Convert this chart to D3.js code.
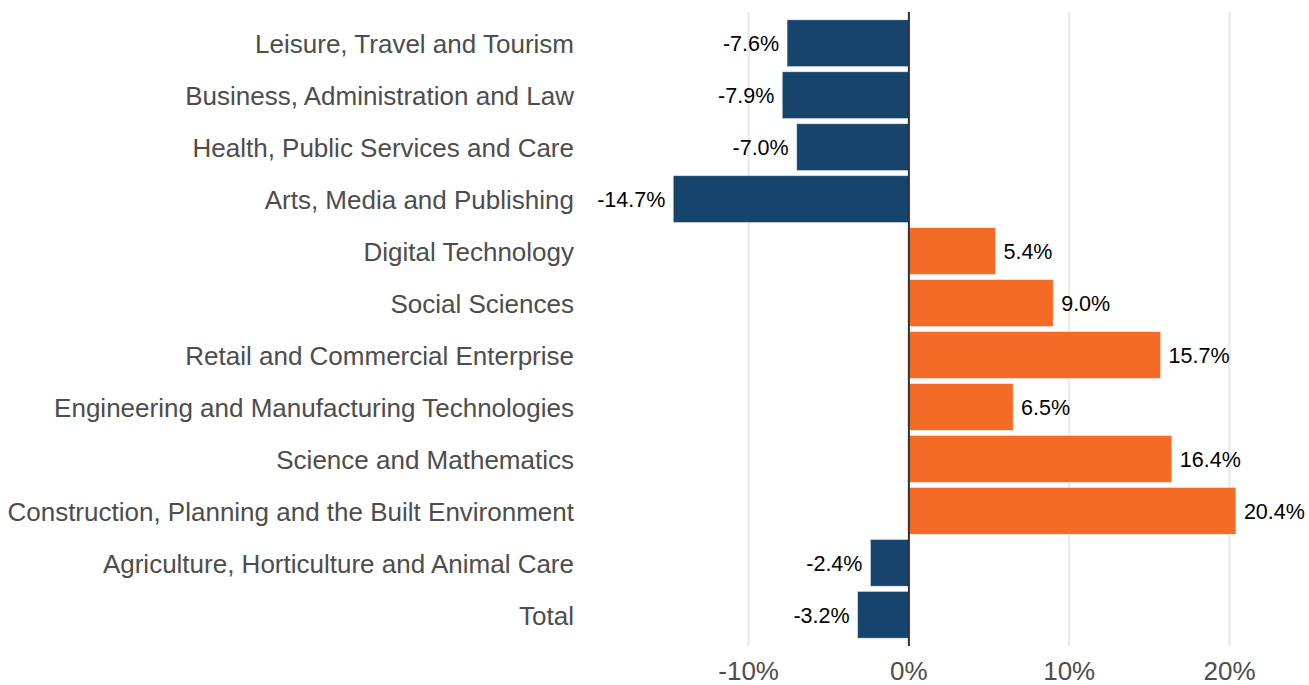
<!DOCTYPE html>
<html>
<head>
<meta charset="utf-8">
<script src="https://cdn.jsdelivr.net/npm/d3@7"></script>
<style>
  body { margin: 0; background: #fff; }
  svg text { font-family: "Liberation Sans", Arial, sans-serif; }
</style>
</head>
<body>
<div id="chart"></div>
<script>
// categories top to bottom
const categories = [
  "Leisure, Travel and Tourism",
  "Business, Administration and Law",
  "Health, Public Services and Care",
  "Arts, Media and Publishing",
  "Digital Technology",
  "Social Sciences",
  "Retail and Commercial Enterprise",
  "Engineering and Manufacturing Technologies",
  "Science and Mathematics",
  "Construction, Planning and the Built Environment",
  "Agriculture, Horticulture and Animal Care",
  "Total"
];
const changes = [-7.6, -7.9, -7.0, -14.7, 5.4, 9.0, 15.7, 6.5, 16.4, 20.4, -2.4, -3.2];
const xTicks = [-10, 0, 10, 20];

const w = 1309, h = 685;
const padL = 584, padR = 1309, padT = 12, padB = 646;

const svg = d3.select("#chart").append("svg")
    .attr("width", w)
    .attr("height", h);

const xScale = d3.scaleLinear()
    .domain([-20.27, 24.96])
    .range([padL, padR]);

const yScale = d3.scaleBand()
    .domain(categories)
    .range([padT, padB])
    .paddingInner(0.1)
    .paddingOuter(0.15);

// grid lines
svg.append("g")
    .selectAll("line")
    .data(xTicks)
    .enter()
    .append("line")
    .attr("x1", (d) => xScale(d))
    .attr("x2", (d) => xScale(d))
    .attr("y1", padT)
    .attr("y2", padB)
    .attr("stroke", "#ebebeb")
    .attr("stroke-width", 2.5);

// bars
svg.append("g")
    .selectAll("rect")
    .data(categories)
    .enter()
    .append("rect")
    .attr("x", (d, i) => xScale(Math.min(0, changes[i])))
    .attr("y", (d) => yScale(d))
    .attr("width", (d, i) => Math.abs(xScale(changes[i]) - xScale(0)))
    .attr("height", yScale.bandwidth())
    .attr("fill", (d, i) => changes[i] < 0 ? "#16446c" : "#f46b25")
    .attr("stroke", "#ffffff")
    .attr("stroke-opacity", 0.5)
    .attr("stroke-width", 0.8);

// zero line
svg.append("line")
    .attr("x1", xScale(0))
    .attr("x2", xScale(0))
    .attr("y1", padT)
    .attr("y2", padB)
    .attr("stroke", "#333333")
    .attr("stroke-width", 2);

// value labels
svg.append("g")
    .selectAll("text")
    .data(categories)
    .enter()
    .append("text")
    .attr("x", (d, i) => changes[i] < 0 ? xScale(changes[i]) - 8 : xScale(changes[i]) + 8)
    .attr("y", (d) => yScale(d) + yScale.bandwidth() / 2)
    .attr("dy", "0.38em")
    .attr("text-anchor", (d, i) => changes[i] < 0 ? "end" : "start")
    .attr("font-size", "21.5px")
    .attr("fill", "#000")
    .text((d, i) => changes[i].toFixed(1) + "%");

// category labels
svg.append("g")
    .selectAll("text")
    .data(categories)
    .enter()
    .append("text")
    .attr("x", 574)
    .attr("y", (d) => yScale(d) + yScale.bandwidth() / 2)
    .attr("dy", "0.38em")
    .attr("text-anchor", "end")
    .attr("font-size", "26px")
    .attr("fill", "#4d4d4d")
    .text((d) => d);

// x tick labels
svg.append("g")
    .selectAll("text")
    .data(xTicks)
    .enter()
    .append("text")
    .attr("x", (d) => xScale(d))
    .attr("y", 680)
    .attr("text-anchor", "middle")
    .attr("font-size", "26px")
    .attr("fill", "#4d4d4d")
    .text((d) => d + "%");
</script>
</body>
</html>
